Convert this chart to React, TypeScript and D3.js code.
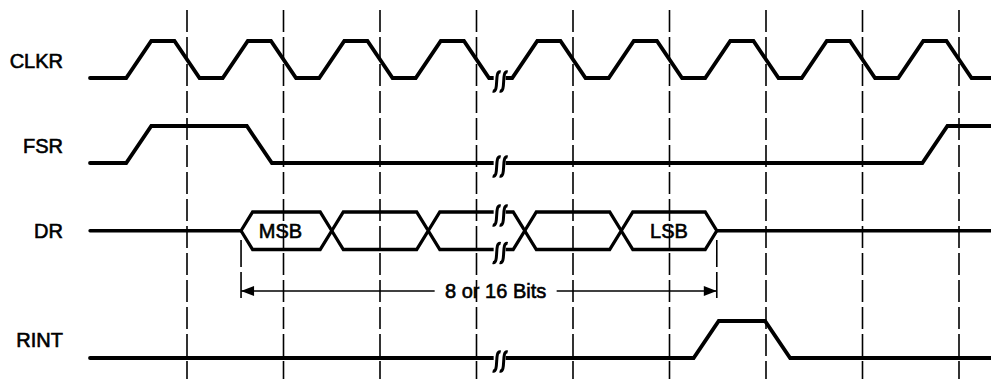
import React from 'react';
import * as d3 from 'd3';

const W = 991;
const H = 379;

// lane labels
const laneNames = ['CLKR', 'FSR', 'DR', 'RINT'];
// time grid (clock falling edges), in clock periods
const gridTimes = [0, 1, 2, 3, 4, 5, 6, 7, 8];
// clock edges
const clkRise = [-0.5, 0.5, 1.5, 2.5, 3.5, 4.5, 5.5, 6.5, 7.5];
const clkFall = [0, 1, 2, 3, 4, 5, 6, 7, 8];
// frame sync edges
const fsrRise = [-0.5, 7.75];
const fsrFall = [0.75];
// receive interrupt edges
const rintRise = [5.38];
const rintFall = [6.12];
// data bits
const drStarts = [0.56, 1.5, 2.5, 3.5, 4.5];
const drEnds = [1.5, 2.5, 3.5, 4.5, 5.49];
const drLabels = ['MSB', '', '', '', 'LSB'];
// break marks
const breakTime = 3.24;
// span annotation
const spanTimes = [0.56, 5.49];
const spanLabel = '8 or 16 Bits';
const timeRange = [-1.005, 8.35];

const FONT = '"Liberation Sans", Arial, Helvetica, sans-serif';

export default function App() {
  const x = d3.scaleLinear().domain([0, 8]).range([187, 959]);
  const edgeH = 0.13;
  const busH = 0.12;

  const lane = {
    CLKR: d3.scaleLinear().domain([0, 1]).range([78, 41]),
    FSR: d3.scaleLinear().domain([0, 1]).range([163, 126]),
    DR: d3.scaleLinear().domain([-1, 1]).range([249.5, 212]),
    RINT: d3.scaleLinear().domain([0, 1]).range([358, 321]),
  };
  const labelBaselines = [68, 153, 238, 347];

  const wave = (rises: number[], falls: number[], init: number) => {
    const edges = [
      ...rises.map((t) => ({ t, v: 1 })),
      ...falls.map((t) => ({ t, v: 0 })),
    ].sort((a, b) => a.t - b.t);
    const pts: [number, number][] = [[timeRange[0], init]];
    let cur = init;
    edges.forEach((e) => {
      pts.push([e.t - edgeH, cur]);
      pts.push([e.t + edgeH, e.v]);
      cur = e.v;
    });
    pts.push([timeRange[1], cur]);
    return pts;
  };

  const mkLine = (yS: d3.ScaleLinear<number, number>) =>
    d3
      .line<[number, number]>()
      .x((d) => x(d[0]))
      .y((d) => yS(d[1]));

  const clkPath = mkLine(lane.CLKR)(wave(clkRise, clkFall, 0)) || '';
  const fsrPath = mkLine(lane.FSR)(wave(fsrRise, fsrFall, 0)) || '';
  const rintPath = mkLine(lane.RINT)(wave(rintRise, rintFall, 0)) || '';

  const drLine = mkLine(lane.DR);
  const hexes = drStarts.map((s, i) => {
    const e = drEnds[i];
    const pts: [number, number][] = [
      [s, 0],
      [s + busH, 1],
      [e - busH, 1],
      [e, 0],
      [e - busH, -1],
      [s + busH, -1],
      [s, 0],
    ];
    return { d: drLine(pts) || '', label: drLabels[i], cx: (x(s) + x(e)) / 2 };
  });
  const drLeft = drLine([[timeRange[0], 0], [drStarts[0], 0]]) || '';
  const drRight = drLine([[drEnds[drEnds.length - 1], 0], [timeRange[1], 0]]) || '';

  const bx = x(breakTime);
  const breakYs = [lane.CLKR(0), lane.FSR(0), lane.DR(1), lane.DR(-1), lane.RINT(0)];
  const sPath = (cx: number, cy: number) =>
    `M${cx + 4},${cy - 9} C${cx - 3},${cy - 11} ${cx + 3},${cy + 12} ${cx - 4},${cy + 10}`;

  const ax0 = x(spanTimes[0]);
  const ax1 = x(spanTimes[1]);
  const ay = 291;
  const textCx = x(breakTime) - 4;
  const gap0 = textCx - 61;
  const gap1 = textCx + 61;

  const textStyle = { stroke: '#000', strokeWidth: 0.6 };

  return (
    <svg
      width={W}
      height={H}
      style={{ position: 'absolute', left: 0, top: 0, background: '#fff' }}
      fontFamily={FONT}
    >
      <rect x={0} y={0} width={W} height={H} fill="#fff" />
      {/* grid */}
      {gridTimes.map((t) => (
        <line
          key={t}
          x1={x(t)}
          x2={x(t)}
          y1={10}
          y2={H}
          stroke="#000"
          strokeWidth={1.6}
          strokeDasharray="22 5"
        />
      ))}
      {/* labels */}
      {laneNames.map((n, i) => (
        <text key={n} x={63} y={labelBaselines[i]} textAnchor="end" fontSize={20} fill="#000" {...textStyle}>
          {n}
        </text>
      ))}
      {/* waveforms */}
      <g fill="none" stroke="#000" strokeWidth={3.8} strokeLinejoin="miter" strokeLinecap="round">
        <path d={clkPath} />
        <path d={fsrPath} />
        <path d={rintPath} />
      </g>
      <g fill="#fff" stroke="#000" strokeWidth={3.3} strokeLinejoin="miter">
        <path d={drLeft} fill="none" strokeLinecap="round" />
        <path d={drRight} fill="none" strokeLinecap="round" />
        {hexes.map((h, i) => (
          <path key={i} d={h.d} fill="none" />
        ))}
      </g>
      {hexes.map((h, i) =>
        h.label ? (
          <text
            key={'l' + i}
            x={h.cx - (i === 0 ? 6 : 0)}
            y={238}
            textAnchor="middle"
            fontSize={20}
            fill="#000"
            {...textStyle}
          >
            {h.label}
          </text>
        ) : null
      )}
      {/* break marks */}
      {breakYs.map((y, i) => (
        <g key={'b' + i}>
          <rect x={bx - 6} y={y - 4} width={12} height={8} fill="#fff" />
          <path d={sPath(bx - 3, y + 3)} fill="none" stroke="#000" strokeWidth={3} />
          <path d={sPath(bx + 4, y + 3)} fill="none" stroke="#000" strokeWidth={3} />
        </g>
      ))}
      {/* span annotation */}
      {[ax0, ax1].map((ax, i) => (
        <line
          key={'s' + i}
          x1={ax}
          x2={ax}
          y1={240}
          y2={298}
          stroke="#000"
          strokeWidth={1.6}
          strokeDasharray="27 5"
        />
      ))}
      <line x1={ax0} x2={gap0} y1={ay} y2={ay} stroke="#000" strokeWidth={1.4} />
      <line x1={gap1} x2={ax1} y1={ay} y2={ay} stroke="#000" strokeWidth={1.4} />
      <path d={`M${ax0},${ay} L${ax0 + 13},${ay - 5} L${ax0 + 13},${ay + 5} Z`} fill="#000" />
      <path d={`M${ax1},${ay} L${ax1 - 13},${ay - 5} L${ax1 - 13},${ay + 5} Z`} fill="#000" />
      <text x={textCx} y={298} textAnchor="middle" fontSize={20} fill="#000" {...textStyle}>
        {spanLabel}
      </text>
    </svg>
  );
}
